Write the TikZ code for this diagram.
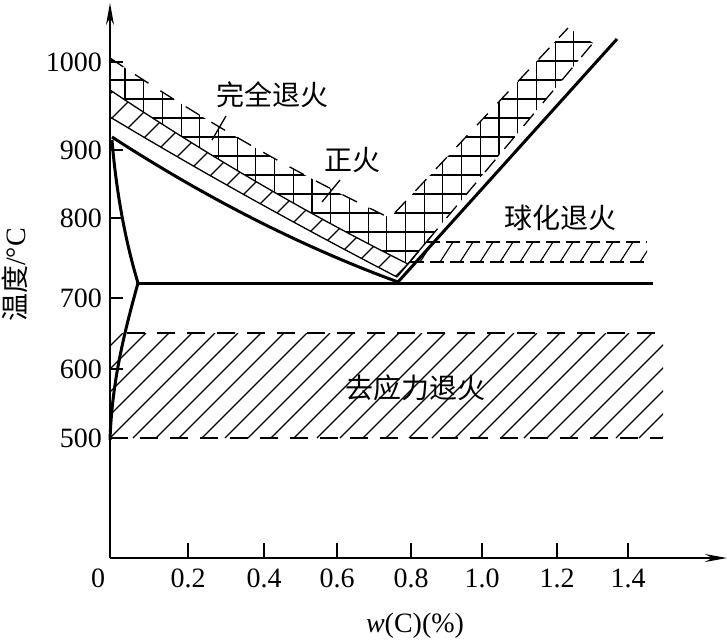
\documentclass[tikz,border=0pt]{standalone}
\usepackage{fontspec}
\setmainfont{Liberation Serif}
\newfontfamily\cjk{Noto Sans CJK SC}
\usetikzlibrary{arrows.meta}
\tikzset{
curve/.style={
line width=3pt
},
edge/.style={
line width=1.3pt
},
hatch/.style={
line width=1.1pt
},
dashedge/.style={
line width=1.3pt,
dash pattern=on 16pt off 14pt
},
axis/.style={
line width=1.3pt,
-{Stealth[length=22pt,width=8pt]}
},
tick/.style={
line width=1.3pt
},
ticklabel/.style={
inner sep=0pt,
font=\fontsize{28}{28}\selectfont
},
zone/.style={
inner sep=0pt,
font=\cjk\fontsize{28}{28}\selectfont
},
leader/.style={
line width=1.3pt
}
}

\begin{document}
\begin{tikzpicture}[x=1pt,y=-1pt]
\useasboundingbox (0,0) rectangle (727,641);

% axes
\coordinate (O) at (110,558);
\coordinate (ytop) at (110,3);
\coordinate (xend) at (727,558);
\draw[axis](O)--(ytop);
\draw[axis](O)--(xend);

\foreach \y/\t in {62/1000,150/900,218/800,298/700,369/600,438/500}{
\draw[tick](110,\y)--(123,\y);
\node[ticklabel,anchor=east](y\t) at (102,\y){\t};
}
\node[ticklabel](x0) at (98,578){0};
\foreach \x/\t in {188/0.2,264/0.4,337/0.6,411/0.8,482/1.0,557/1.2,628/1.4}{
\draw[tick](\x,558)--(\x,543);
\node[ticklabel](x\x) at (\x,578){\t};
}

% stress relief band
\begin{scope}
\clip (110,333) rectangle (663,438);
\foreach \c in {456,479,...,1110}
\draw[hatch](\c-333,333)--(\c-438,438);
\end{scope}
\draw[dashedge,dash pattern=on 18pt off 12pt](127,333)--(663,333);
\draw[dashedge,dash pattern=on 18pt off 12pt](110,438)--(663,438);

% spheroidizing band
\begin{scope}
\clip (426.3,242)--(647,242)--(647,262)--(409.6,262)--cycle;
\foreach \x in {400,420,...,660}
\draw[hatch](\x,262)--(\x+13,242);
\end{scope}
\draw[dashedge,dash pattern=on 14pt off 6pt](426.3,242)--(647,242);
\draw[dashedge,dash pattern=on 14pt off 6pt](409.6,262)--(647,262);

% cross hatched band
\begin{scope}
\clip (110,58) .. controls (202.3,119.7) and (294.7,172.7) .. (390,218)
--(568,28)--(593,43)--(408,264)
.. controls (308,214) and (209,156.3) .. (110,90)--cycle;
\foreach \x in {125,143.7,...,610}
\draw[hatch](\x,20)--(\x,280);
\foreach \y in {42,61,...,280}
\draw[hatch](100,\y)--(610,\y);
\end{scope}
\draw[dashedge](110,58) .. controls (202.3,119.7) and (294.7,172.7) .. (390,218)--(568,28);
\draw[dashedge](408,264)--(593,43);
\draw[edge](397,277)--(431.4,236);

% ladder band
\begin{scope}
\clip (110,117) .. controls (206,174.7) and (302,227.7) .. (397,277)
--(408,264) .. controls (308,214) and (209,156.3) .. (110,90)--cycle;
\foreach \c in {204,230,...,700}
\draw[hatch](\c-80,80)--(\c-290,290);
\end{scope}
\draw[edge](110,117) .. controls (206,174.7) and (302,227.7) .. (397,277);
\draw[edge](110,90) .. controls (209,156.3) and (308,214) .. (408,264);

% phase lines
\draw[curve](112,137) .. controls (207.3,198.8) and (302.7,247.1) .. (398,282)--(617,39);
\draw[curve](136,283)--(653,283);
\draw[curve](112,140) .. controls (116,190) and (125,240) .. (138,283)
.. controls (125,330) and (112,380) .. (110,440);

% labels
\node[zone](full) at (272,95){完全退火};
\node[zone](norm) at (352,160){正火};
\node[zone](sphero) at (560,218){球化退火};
\node[zone](stress) at (415,388){去应力退火};
\coordinate (fullfoot) at (226,116);
\coordinate (fulltip) at (212,140);
\coordinate (normfoot) at (340,180);
\coordinate (normtip) at (322,202);
\draw[leader](fullfoot)--(fulltip);
\draw[leader](normfoot)--(normtip);

\node[ticklabel,rotate=90](ylab) at (15,275){{\cjk 温度}/°C};
\node[ticklabel](xlab) at (415,626){\textit{w}(C)(\%)};
\end{tikzpicture}
\end{document}
